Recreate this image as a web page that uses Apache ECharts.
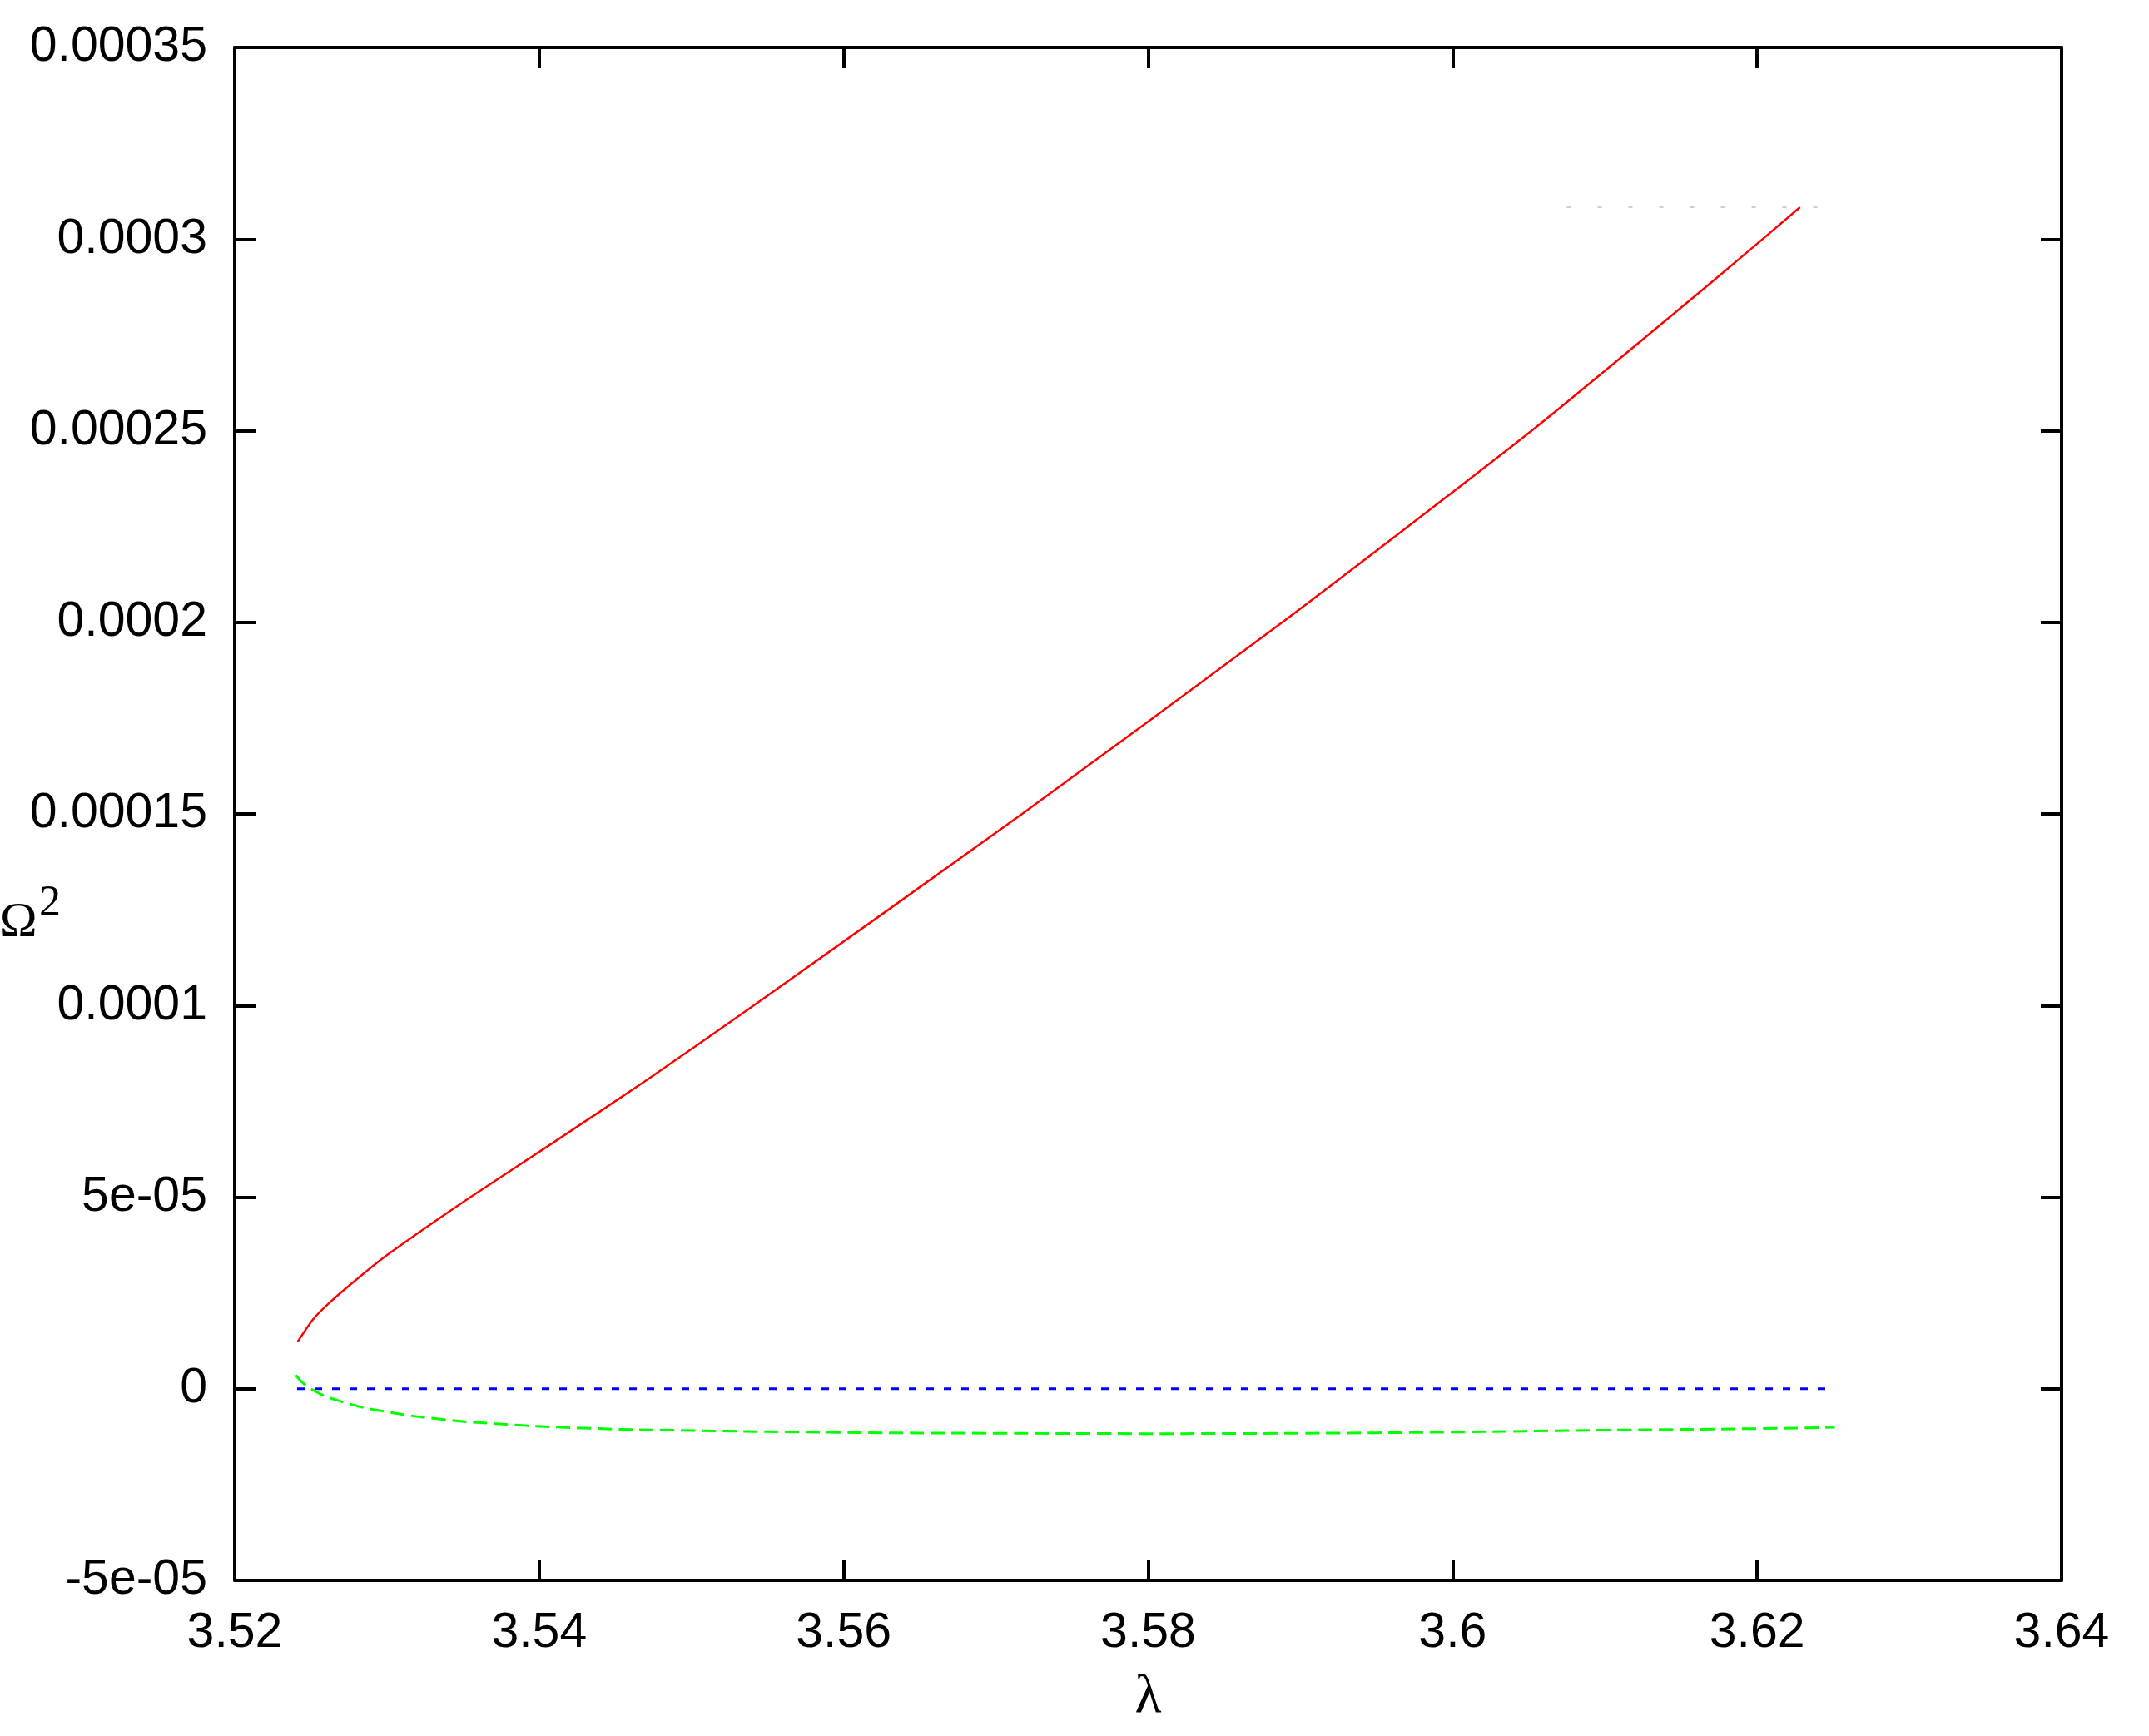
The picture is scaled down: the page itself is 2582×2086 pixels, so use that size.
<!DOCTYPE html>
<html>
<head>
<meta charset="utf-8">
<script src="https://cdn.jsdelivr.net/npm/echarts@6/dist/echarts.min.js"></script>
<style>
html,body{margin:0;padding:0;background:#fff;}
#chart{width:2582px;height:2086px;}
</style>
</head>
<body>
<div id="chart"></div>
<script>
// ---- data ----
const xTickLabels = ['3.52','3.54','3.56','3.58','3.6','3.62','3.64'];
const yTickLabels = ['-5e-05','0','5e-05','0.0001','0.00015','0.0002','0.00025','0.0003','0.00035'];

const redLambda = [3.52414,3.52513,3.52621,3.52816,3.53025,3.53540,3.54091,3.54697,3.55409,3.57172,3.58881,3.60519,3.61708,3.62282];
const redOmega2 = [1.230e-5,1.803e-5,2.239e-5,2.904e-5,3.559e-5,4.98e-5,6.42e-5,8.03e-5,1.0e-4,1.5e-4,2.0e-4,2.5e-4,2.8898e-4,3.083e-4];

const greenLambda = [3.52401,3.52499,3.52718,3.53010,3.53374,3.53738,3.54285,3.55,3.56,3.57,3.58,3.59,3.60,3.61,3.62,3.62510];
const greenOmega2 = [3.57e-6,0,-3.53e-6,-6.07e-6,-8.02e-6,-9.17e-6,-1.026e-5,-1.09e-5,-1.14e-5,-1.16e-5,-1.17e-5,-1.16e-5,-1.13e-5,-1.08e-5,-1.04e-5,-1.004e-5];

const blueLambda = [3.5241,3.6250];
const blueOmega2 = [0,0];

const greyLambda = [3.6075,3.6244];
const greyOmega2 = [3.083e-4,3.083e-4];

const xMin = 3.52, xMax = 3.64, xStep = 0.02;
const yMin = -5e-5, yMax = 3.5e-4, yStep = 5e-5;

function zip(a,b){return a.map((v,i)=>[v,b[i]]);}

const chart = echarts.init(document.getElementById('chart'), null, {renderer:'canvas'});

const lineStyleAxis = {color:'#000', width:4};
const labelFont = {color:'#000', fontFamily:'"Liberation Sans", Arial, sans-serif', fontSize:59};

function xFmt(v){const i=Math.round((v-xMin)/xStep);return xTickLabels[i]!==undefined?xTickLabels[i]:'';}
function yFmt(v){const i=Math.round((v-yMin)/yStep);return yTickLabels[i]!==undefined?yTickLabels[i]:'';}

const option = {
  animation:false,
  backgroundColor:'#fff',
  grid:{left:282, right:105, top:57, bottom:187, containLabel:false},
  xAxis:[
    {type:'value', min:xMin, max:xMax, interval:xStep, position:'bottom',
     axisLine:{show:true, onZero:false, lineStyle:lineStyleAxis},
     axisTick:{show:true, inside:true, length:25, lineStyle:{color:'#000', width:4}},
     axisLabel:Object.assign({margin:34, formatter:xFmt}, labelFont),
     splitLine:{show:false},
     name:'λ', nameLocation:'middle', nameGap:108,
     nameTextStyle:{color:'#000', fontFamily:'"Liberation Serif", "Times New Roman", serif', fontSize:66}
    },
    {type:'value', min:xMin, max:xMax, interval:xStep, position:'top',
     axisLine:{show:true, onZero:false, lineStyle:lineStyleAxis},
     axisTick:{show:true, inside:true, length:25, lineStyle:{color:'#000', width:4}},
     axisLabel:{show:false}, splitLine:{show:false}}
  ],
  yAxis:[
    {type:'value', min:yMin, max:yMax, interval:yStep, position:'left',
     axisLine:{show:true, onZero:false, lineStyle:lineStyleAxis},
     axisTick:{show:true, inside:true, length:25, lineStyle:{color:'#000', width:4}},
     axisLabel:Object.assign({margin:33, formatter:yFmt}, labelFont),
     splitLine:{show:false}},
    {type:'value', min:yMin, max:yMax, interval:yStep, position:'right',
     axisLine:{show:true, onZero:false, lineStyle:lineStyleAxis},
     axisTick:{show:true, inside:true, length:25, lineStyle:{color:'#000', width:4}},
     axisLabel:{show:false}, splitLine:{show:false}}
  ],
  graphic:[
    {type:'text', left:0, top:1079, z:10,
     style:{text:'Ω', fill:'#000', font:'60px "Liberation Serif", "Times New Roman", serif'}},
    {type:'text', left:47, top:1060, z:10,
     style:{text:'2', fill:'#000', font:'52px "Liberation Serif", "Times New Roman", serif'}}
  ],
  series:[
    {type:'line', name:'red', data:zip(redLambda, redOmega2), showSymbol:false, smooth:0.2,
     lineStyle:{color:'#ff0000', width:2.5}, z:3},
    {type:'line', name:'green', data:zip(greenLambda, greenOmega2), showSymbol:false, smooth:true,
     lineStyle:{color:'#00ff00', width:3, type:[17,8]}, z:3},
    {type:'line', name:'blue', data:zip(blueLambda, blueOmega2), showSymbol:false,
     lineStyle:{color:'#0000ff', width:3, type:[9,12]}, z:3},
    {type:'line', name:'grey', data:zip(greyLambda, greyOmega2), showSymbol:false,
     lineStyle:{color:'#c0c0c0', width:1.5, type:[5,32]}, z:2}
  ]
};
chart.setOption(option);
</script>
</body>
</html>
